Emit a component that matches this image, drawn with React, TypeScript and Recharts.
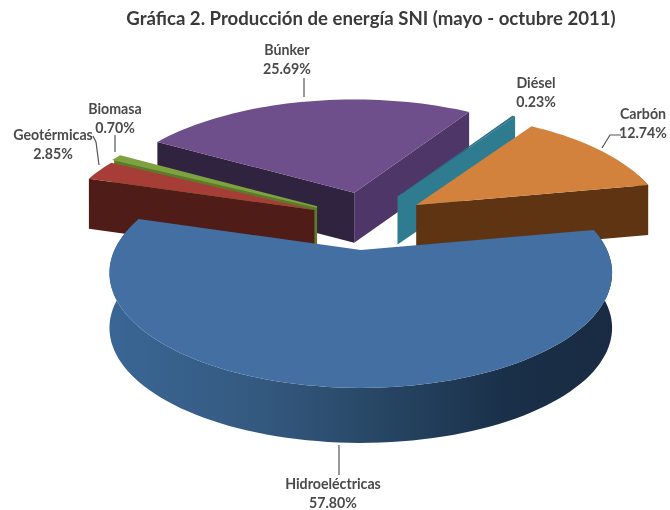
import React from 'react';
import { PieChart, Pie } from 'recharts';

const names = ['Búnker', 'Diésel', 'Carbón', 'Hidroeléctricas', 'Geotérmicas', 'Biomasa'];
const values = [25.69, 0.23, 12.74, 57.8, 2.85, 0.7];
const percentLabels = ['25.69%', '0.23%', '12.74%', '57.80%', '2.85%', '0.70%'];
const title = 'Gráfica 2. Producción de energía SNI (mayo - octubre 2011)';

const slices = names.map((name, i) => ({ name, value: values[i], pct: percentLabels[i] }));

const STYLE: Record<string, any> = {
  'Búnker': { top: '#6F4E8C', start: '#30233F', end: '#4E3668', arc: '#4E3668', depth: 50, scale: 1, shift: 0 },
  'Diésel': { top: '#2A6F82', start: '#2A6F82', end: '#2F7B8F', arc: '#2F7B8F', depth: 48, scale: 1, shift: -2 },
  'Carbón': { top: '#D2823C', start: '#5F3413', end: '#5F3413', arc: '#5F3413', depth: 50, scale: 0.98, shift: 0 },
  'Hidroeléctricas': { top: '#446FA3', start: '#2E5075', end: '#2E5075', arc: 'url(#hydroWall)', depth: 55, scale: 0.985, shift: -4 },
  'Geotérmicas': { top: '#A63E37', start: '#4F1C17', end: '#4F1C17', arc: '#4F1C17', depth: 50, scale: 1, shift: 0 },
  'Biomasa': { top: '#7DA23F', start: '#5C7A2A', end: '#5C7A2A', arc: '#5C7A2A', depth: 50, scale: 1, shift: 0, outline: 1.5 },
};

// label placement: text centre, first-baseline, leader polyline
const LABELS: Record<string, any> = {
  'Búnker': { x: 287, y: 55, line: '304,97 304,78' },
  'Diésel': { x: 536, y: 88, line: '' },
  'Carbón': { x: 643, y: 119, line: '602,148 610,135 621,135' },
  'Hidroeléctricas': { x: 333, y: 489, line: '339,445 339,475' },
  'Geotérmicas': { x: 53, y: 140, line: '99,165 96,142 93,136' },
  'Biomasa': { x: 115, y: 114, line: '115,152 115,135' },
};

const TILT = 0.448;
const PERSP = 0.2;
const EXPLODE_X = 58;
const EXPLODE_Y = 29;
const LAYERS = [
  ['Búnker', 'Diésel', 'Carbón', 'Biomasa'],
  ['Geotérmicas'],
  ['Hidroeléctricas'],
];

const makeShape = (layer: string[]) => (props: any) => {
  const name = props.payload?.name ?? props.name;
  if (!layer.includes(name)) return <g />;
  const st = STYLE[name];
  const R = props.outerRadius * st.scale;
  const t1 = 90 - props.startAngle;
  const t2 = 90 - props.endAngle;
  const rad = (d: number) => (d * Math.PI) / 180;
  const mid = rad((t1 + t2) / 2);
  const ax = props.cx + EXPLODE_X * Math.sin(mid) + st.shift;
  const ay = props.cy - EXPLODE_Y * Math.cos(mid);
  const proj = (deg: number, r = 1) => {
    const u = Math.sin(rad(deg)) * r;
    const v = -Math.cos(rad(deg)) * r;
    const s = 1 / (1 - PERSP * v);
    return [ax + R * u * s, ay + R * TILT * v * s];
  };
  const steps = Math.max(2, Math.ceil((t2 - t1) / 2));
  const arc: { p: number[]; deg: number }[] = [];
  for (let i = 0; i <= steps; i++) {
    const deg = t1 + ((t2 - t1) * i) / steps;
    arc.push({ p: proj(deg), deg });
  }
  const d = st.depth;
  const pt = (p: number[], dy = 0) => `${p[0].toFixed(1)},${(p[1] + dy).toFixed(1)}`;
  const apex = [ax, ay];
  const topPts = [apex, ...arc.map((a) => a.p)].map((p) => pt(p)).join(' ');
  const first = arc[0].p;
  const last = arc[arc.length - 1].p;
  const startVisible = Math.sin(rad(t1)) < 0;
  const endVisible = Math.sin(rad(t2)) > 0;
  const front = arc.filter((a) => Math.cos(rad(a.deg)) < 0.3).map((a) => a.p);
  return (
    <g>
      {name === 'Hidroeléctricas' && (
        <defs>
          <linearGradient id="hydroWall" x1="0" x2="1" y1="0" y2="0">
            <stop offset="0" stopColor="#3A6695" />
            <stop offset="0.3" stopColor="#34597F" />
            <stop offset="0.55" stopColor="#264563" />
            <stop offset="0.8" stopColor="#1A2F48" />
            <stop offset="1" stopColor="#182B42" />
          </linearGradient>
        </defs>
      )}
      {front.length > 1 && (
        <polygon
          points={[...front.map((p) => pt(p)), ...front.slice().reverse().map((p) => pt(p, d))].join(' ')}
          fill={st.arc}
        />
      )}
      {startVisible && (
        <polygon points={[pt(apex), pt(first), pt(first, d), pt(apex, d)].join(' ')} fill={st.start} />
      )}
      {endVisible && (
        <polygon points={[pt(apex), pt(last), pt(last, d), pt(apex, d)].join(' ')} fill={st.end} />
      )}
      <polygon points={topPts} fill={st.top} stroke={st.outline ? st.top : 'none'} strokeWidth={st.outline ?? 0} />
    </g>
  );
};

const renderLabel = (props: any) => {
  const name = props.payload?.name ?? props.name;
  const l = LABELS[name];
  const pct = props.payload?.pct ?? props.pct;
  return (
    <g key={name}>
      {l.line && <polyline points={l.line} fill="none" stroke="#555" strokeWidth={1.2} />}
      <text x={l.x} y={l.y} textAnchor="middle" fontFamily="Lato" fontWeight={700} fontSize={14.2} fill="#4a4a4a">
        {name}
      </text>
      <text x={l.x} y={l.y + 18.5} textAnchor="middle" fontFamily="Lato" fontWeight={700} fontSize={14.2} fill="#4a4a4a">
        {pct}
      </text>
    </g>
  );
};

export default function App() {
  return (
    <div style={{ position: 'absolute', left: 0, top: 0, width: 670, height: 510, filter: 'blur(0.5px)', background: '#fff' }}>
      <PieChart width={670} height={510} margin={{ top: 0, right: 0, bottom: 0, left: 0 }}>
        {LAYERS.map((layer, i) => (
          <Pie
            key={i}
            data={slices}
            dataKey="value"
            nameKey="name"
            cx={368}
            cy={221}
            innerRadius={0}
            outerRadius={250}
            startAngle={-210}
            endAngle={-570}
            stroke="none"
            isAnimationActive={false}
            shape={makeShape(layer)}
            label={i === LAYERS.length - 1 ? renderLabel : false}
            labelLine={false}
          />
        ))}
        <text x={371} y={25} textAnchor="middle" fontFamily="Lato" fontWeight={700} fontSize={18.6} fill="#3a3a3a">
          {title}
        </text>
      </PieChart>
    </div>
  );
}
